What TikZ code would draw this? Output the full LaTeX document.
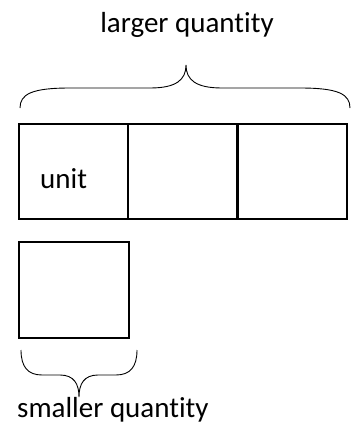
\documentclass[tikz,border=0pt]{standalone}
\usepackage{fontspec}
\setmainfont[Ligatures=CommonOff]{Carlito}
\begin{document}
\begin{tikzpicture}[x=1pt,y=-1pt,
  cell/.style={draw=black,line width=2.2pt,minimum width=109pt,minimum height=95pt,inner sep=0pt,anchor=north west},
  label/.style={font=\fontsize{29}{31}\selectfont,inner sep=0pt},
  brace/.style={draw=black,line width=0.9pt}]
\useasboundingbox (0,0) rectangle (357,428);
% bar of three units
\node[cell] (u1) at (18,123) {};
\node[cell] (u2) at (127,123) {};
\node[cell] (u3) at (236.5,123) {};
\node[label,anchor=base west] (unit) at (40,188) {unit};
% single unit below
\node[cell,minimum width=110pt,minimum height=96pt] (s1) at (18,241) {};
% brace over the bar
\draw[brace] (20,108) .. controls (20,94) and (32,88) .. (70,88) -- (150,88)
  .. controls (176,88) and (186,80) .. (186,65)
  .. controls (186,80) and (196,88) .. (222,88) -- (300,88)
  .. controls (338,88) and (350,94) .. (350,108);
% brace under the single unit
\draw[brace] (21,350) .. controls (21,367) and (28,375) .. (42,375) -- (60,375)
  .. controls (74,375) and (79,384) .. (79,397)
  .. controls (79,384) and (84,375) .. (98,375) -- (116,375)
  .. controls (130,375) and (137,367) .. (137,350);
\node[label,anchor=base] (large) at (187,33) {larger quantity};
\node[label,anchor=base west] (small) at (17,417) {smaller quantity};
\end{tikzpicture}
\end{document}
